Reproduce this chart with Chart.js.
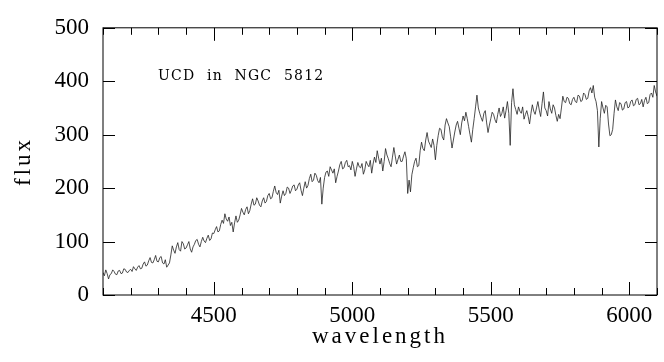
<!DOCTYPE html>
<html>
<head>
<meta charset="utf-8">
<script src="https://cdn.jsdelivr.net/npm/chart.js@4"></script>
<style>
  html, body { margin: 0; padding: 0; background: #fff; }
  #wrap { width: 664px; height: 362px; }
</style>
</head>
<body>
<div id="wrap"><canvas id="spec"></canvas></div>
<script>
// wavelength grid (Angstrom), one row per 100 A
const wavelengths = [
  4100, 4105, 4110, 4115, 4120, 4125, 4130, 4135, 4140, 4145, 4150, 4155, 4160, 4165, 4170, 4175, 4180, 4185, 4190, 4195,
  4200, 4205, 4210, 4215, 4220, 4225, 4230, 4235, 4240, 4245, 4250, 4255, 4260, 4265, 4270, 4275, 4280, 4285, 4290, 4295,
  4300, 4305, 4310, 4315, 4320, 4325, 4330, 4335, 4340, 4345, 4350, 4355, 4360, 4365, 4370, 4375, 4380, 4385, 4390, 4395,
  4400, 4405, 4410, 4415, 4420, 4425, 4430, 4435, 4440, 4445, 4450, 4455, 4460, 4465, 4470, 4475, 4480, 4485, 4490, 4495,
  4500, 4505, 4510, 4515, 4520, 4525, 4530, 4535, 4540, 4545, 4550, 4555, 4560, 4565, 4570, 4575, 4580, 4585, 4590, 4595,
  4600, 4605, 4610, 4615, 4620, 4625, 4630, 4635, 4640, 4645, 4650, 4655, 4660, 4665, 4670, 4675, 4680, 4685, 4690, 4695,
  4700, 4705, 4710, 4715, 4720, 4725, 4730, 4735, 4740, 4745, 4750, 4755, 4760, 4765, 4770, 4775, 4780, 4785, 4790, 4795,
  4800, 4805, 4810, 4815, 4820, 4825, 4830, 4835, 4840, 4845, 4850, 4855, 4860, 4865, 4870, 4875, 4880, 4885, 4890, 4895,
  4900, 4905, 4910, 4915, 4920, 4925, 4930, 4935, 4940, 4945, 4950, 4955, 4960, 4965, 4970, 4975, 4980, 4985, 4990, 4995,
  5000, 5005, 5010, 5015, 5020, 5025, 5030, 5035, 5040, 5045, 5050, 5055, 5060, 5065, 5070, 5075, 5080, 5085, 5090, 5095,
  5100, 5105, 5110, 5115, 5120, 5125, 5130, 5135, 5140, 5145, 5150, 5155, 5160, 5165, 5170, 5175, 5180, 5185, 5190, 5195,
  5200, 5205, 5210, 5215, 5220, 5225, 5230, 5235, 5240, 5245, 5250, 5255, 5260, 5265, 5270, 5275, 5280, 5285, 5290, 5295,
  5300, 5305, 5310, 5315, 5320, 5325, 5330, 5335, 5340, 5345, 5350, 5355, 5360, 5365, 5370, 5375, 5380, 5385, 5390, 5395,
  5400, 5405, 5410, 5415, 5420, 5425, 5430, 5435, 5440, 5445, 5450, 5455, 5460, 5465, 5470, 5475, 5480, 5485, 5490, 5495,
  5500, 5505, 5510, 5515, 5520, 5525, 5530, 5535, 5540, 5545, 5550, 5555, 5560, 5565, 5570, 5575, 5580, 5585, 5590, 5595,
  5600, 5605, 5610, 5615, 5620, 5625, 5630, 5635, 5640, 5645, 5650, 5655, 5660, 5665, 5670, 5675, 5680, 5685, 5690, 5695,
  5700, 5705, 5710, 5715, 5720, 5725, 5730, 5735, 5740, 5745, 5750, 5755, 5760, 5765, 5770, 5775, 5780, 5785, 5790, 5795,
  5800, 5805, 5810, 5815, 5820, 5825, 5830, 5835, 5840, 5845, 5850, 5855, 5860, 5865, 5870, 5875, 5880, 5885, 5890, 5895,
  5900, 5905, 5910, 5915, 5920, 5925, 5930, 5935, 5940, 5945, 5950, 5955, 5960, 5965, 5970, 5975, 5980, 5985, 5990, 5995,
  6000, 6005, 6010, 6015, 6020, 6025, 6030, 6035, 6040, 6045, 6050, 6055, 6060, 6065, 6070, 6075, 6080, 6085, 6090, 6095,
  6100
]

// flux, same rows as above
const flux = [
  42, 36, 47, 40, 30, 38, 40, 47, 44, 39, 38, 45, 46, 40, 41, 49, 48, 43, 42, 46,
  48, 44, 53, 49, 46, 52, 55, 49, 50, 58, 62, 54, 56, 64, 70, 61, 60, 66, 74, 63,
  62, 70, 72, 60, 58, 66, 52, 56, 60, 75, 92, 84, 78, 90, 98, 85, 82, 100, 96, 86,
  88, 94, 100, 86, 80, 90, 95, 102, 104, 95, 90, 100, 108, 101, 98, 106, 112, 102, 105, 116,
  115, 122, 128, 118, 120, 132, 140, 134, 152, 142, 138, 146, 130, 136, 118, 135, 148, 136, 140, 150,
  162, 155, 150, 160, 165, 152, 158, 170, 180, 168, 170, 182, 176, 168, 165, 176, 182, 172, 175, 186,
  190, 180, 182, 194, 204, 192, 188, 196, 172, 185, 195, 186, 190, 202, 200, 190, 196, 204, 206, 195,
  198, 206, 210, 196, 186, 200, 212, 200, 205, 218, 226, 212, 215, 228, 224, 214, 210, 220, 170, 200,
  220, 230, 232, 222, 240, 234, 228, 236, 210, 222, 232, 244, 250, 236, 238, 248, 252, 240, 242, 234,
  250, 240, 222, 236, 248, 240, 238, 246, 226, 234, 250, 244, 240, 252, 228, 245, 258, 248, 270, 256,
  245, 256, 232, 250, 274, 262, 255, 246, 240, 258, 276, 260, 245, 254, 262, 250, 250, 260, 268, 255,
  190, 215, 193, 225, 238, 250, 256, 240, 242, 270, 286, 274, 270, 290, 304, 288, 282, 276, 292, 280,
  253, 280, 298, 312, 310, 296, 290, 318, 330, 322, 315, 296, 275, 290, 305, 318, 325, 312, 300, 322,
  335, 326, 342, 330, 315, 300, 286, 310, 330, 352, 374, 350, 340, 332, 325, 340, 345, 322, 304, 318,
  330, 342, 338, 328, 322, 338, 350, 334, 340, 352, 331, 345, 362, 340, 280, 360, 386, 356, 347, 338,
  352, 344, 340, 352, 329, 338, 345, 334, 320, 340, 356, 344, 338, 350, 362, 346, 334, 358, 380, 350,
  345, 335, 362, 348, 340, 356, 350, 336, 325, 338, 330, 350, 372, 362, 360, 370, 368, 358, 356, 366,
  370, 362, 360, 374, 372, 362, 364, 378, 375, 366, 368, 382, 388, 378, 392, 370, 362, 345, 277, 330,
  362, 350, 340, 355, 352, 320, 298, 300, 310, 340, 365, 352, 345, 360, 358, 346, 348, 360, 362, 350,
  352, 362, 365, 354, 356, 366, 368, 356, 358, 366, 352, 364, 370, 358, 360, 375, 378, 370, 392, 380,
  372
]

const xTitle = 'wavelength'
const yTitle = 'flux'
const note = 'UCD in NGC 5812'

const fontName = '"Liberation Serif", "DejaVu Serif", serif'

// frame with inward ticks on all four sides + the texts
const framePlugin = {
  id: 'frame',
  afterDraw(chart) {
    const ctx = chart.ctx
    const { left, right, top, bottom } = chart.chartArea
    const x = chart.scales.x
    const y = chart.scales.y
    ctx.save()
    ctx.strokeStyle = '#000'
    ctx.lineWidth = 1
    ctx.strokeRect(left, top, right - left, bottom - top)
    ctx.beginPath()
    x.ticks.forEach((t) => {
      const px = Math.round(x.getPixelForValue(t.value)) + 0.5
      const len = t.value % 500 === 0 ? 13 : 7
      ctx.moveTo(px, bottom); ctx.lineTo(px, bottom - len)
      ctx.moveTo(px, top); ctx.lineTo(px, top + len)
    })
    y.ticks.forEach((t) => {
      const py = Math.round(y.getPixelForValue(t.value)) + 0.5
      const len = t.value % 100 === 0 ? 12 : 7
      ctx.moveTo(left, py); ctx.lineTo(left + len, py)
      ctx.moveTo(right, py); ctx.lineTo(right - len, py)
    })
    ctx.stroke()

    ctx.fillStyle = '#000'
    ctx.font = `23px ${fontName}`
    ctx.letterSpacing = '3px'
    ctx.textAlign = 'center'
    ctx.textBaseline = 'alphabetic'
    ctx.fillText(xTitle, (left + right) / 2, 343)

    ctx.save()
    ctx.translate(30, (top + bottom) / 2)
    ctx.rotate(-Math.PI / 2)
    ctx.fillText(yTitle, 0, 0)
    ctx.restore()

    // label inside the plot, wide word gaps like the original plot font
    ctx.font = '14px "DejaVu Serif", serif'
    ctx.letterSpacing = '1.2px'
    ctx.wordSpacing = '6px'
    ctx.textAlign = 'left'
    ctx.fillText(note, 158, 80)
    ctx.restore()
  }
}

const points = wavelengths.map((w, i) => ({ x: w, y: flux[i] }))

const config = {
  type: 'line',
  data: {
    datasets: [{
      data: points,
      borderColor: '#222',
      borderWidth: 0.8,
      pointRadius: 0,
      tension: 0,
      fill: false
    }]
  },
  options: {
    responsive: true,
    maintainAspectRatio: false,
    animation: false,
    layout: { padding: { top: 18, right: 7, left: 0, bottom: 0 } },
    plugins: { legend: { display: false }, tooltip: { enabled: false } },
    scales: {
      x: {
        type: 'linear',
        min: 4100,
        max: 6100,
        grid: { display: false, drawTicks: false },
        border: { display: false },
        afterFit: (scale) => { scale.height = 67 },
        ticks: {
          stepSize: 100,
          autoSkip: false,
          maxRotation: 0,
          padding: 7,
          color: '#000',
          font: { family: fontName, size: 23 },
          callback: (v) => (v % 500 === 0 && v > 4100 && v < 6100 ? String(v) : '')
        }
      },
      y: {
        min: 0,
        max: 500,
        grid: { display: false, drawTicks: false },
        border: { display: false },
        afterFit: (scale) => { scale.width = 103 },
        ticks: {
          stepSize: 50,
          padding: 14,
          color: '#000',
          font: { family: fontName, size: 23 },
          callback: (v) => (v % 100 === 0 ? String(v) : '')
        }
      }
    }
  },
  plugins: [framePlugin]
}

new Chart(document.querySelector('#spec').getContext('2d'), config)
</script>
</body>
</html>
